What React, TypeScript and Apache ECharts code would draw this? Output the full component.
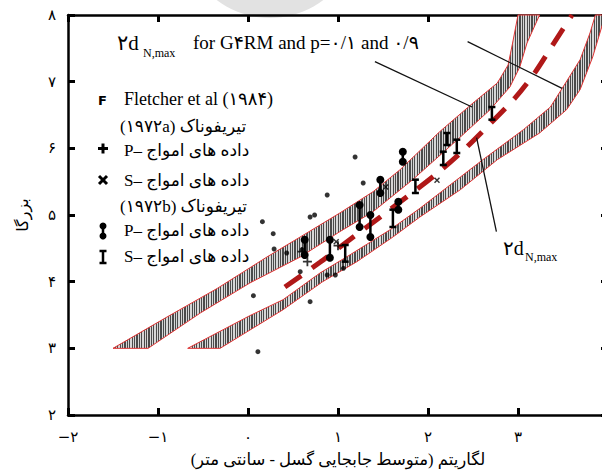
import React, { useEffect, useRef } from "react";
import * as echarts from "echarts";

// ---------- data ----------
const xTickLabels = ["−۲", "−۱", "۰", "۱", "۲", "۳", "۴"]; // -2 .. 4
const yTickLabels = ["۲", "۳", "۴", "۵", "۶", "۷", "۸"]; // 2 .. 8

const xAxisTitle = "\u200Fلگاریتم (متوسط جابجایی گسل - سانتی متر)\u200F";
const yAxisTitle = "بزرگا";

const bandAUpper = [
  [-1.5, 3.0], [-0.9, 3.47], [-0.34, 3.9], [0.21, 4.37], [0.58, 4.67], [1.02, 5.03],
  [1.39, 5.35], [1.69, 5.68], [2.13, 6.25], [2.5, 6.68], [2.77, 6.98], [2.89, 7.25],
  [2.94, 7.58], [3.0, 8.0],
];
const bandALower = [
  [-1.11, 3.0], [-0.53, 3.53], [0.02, 3.98], [0.58, 4.37], [1.02, 4.75], [1.39, 5.05],
  [1.83, 5.53], [2.36, 6.17], [2.69, 6.58], [2.91, 6.92], [3.02, 7.22], [3.1, 7.58],
  [3.24, 8.0],
];
const bandBUpper = [
  [-0.67, 3.0], [0.02, 3.49], [0.39, 3.73], [0.8, 4.13], [1.13, 4.4], [1.58, 4.78],
  [1.91, 5.1], [2.36, 5.57], [2.61, 5.83], [3.06, 6.28], [3.36, 6.62], [3.5, 6.92],
  [3.69, 7.33], [3.8, 7.73], [3.86, 8.0],
];
const bandBLower = [
  [-0.31, 3.0], [0.39, 3.58], [0.83, 4.0], [1.21, 4.3], [1.61, 4.67], [1.91, 4.97],
  [2.36, 5.38], [2.77, 5.83], [3.24, 6.23], [3.54, 6.58], [3.69, 6.88], [3.83, 7.37],
  [3.97, 8.0],
];
const meanLine = [
  [0.41, 3.92], [0.8, 4.29], [1.1, 4.6], [1.47, 4.97], [2.06, 5.58], [2.36, 5.93],
  [2.61, 6.26], [2.97, 6.76], [3.19, 7.14], [3.39, 7.56], [3.6, 8.0],
];
const leaderTopA = [[1.41, 7.3], [2.49, 6.62]];
const leaderTopB = [[2.44, 7.6], [3.49, 6.9]];
const leaderMean = [[2.54, 6.16], [2.76, 4.75]];

const otherDots = [
  [0.16, 4.9], [0.28, 4.72], [0.29, 4.49], [0.43, 4.43], [0.06, 3.79], [0.11, 2.95],
  [0.69, 3.7], [1.19, 5.87], [1.28, 5.48], [0.88, 5.3], [0.69, 4.97], [0.74, 5.0],
  [0.58, 4.15], [0.88, 4.1], [0.97, 4.1], [1.06, 4.2], [0.6, 4.48],
];
// [x, yLow, yHigh]
const trifunacBP = [
  [1.72, 5.8, 5.95], [1.47, 5.33, 5.53], [1.24, 4.82, 5.15], [1.36, 4.67, 5.0],
  [0.63, 4.4, 4.63], [0.91, 4.36, 4.63], [1.67, 5.08, 5.2],
];
const trifunacBS = [
  [1.61, 4.82, 5.08], [1.86, 5.33, 5.53], [2.21, 6.05, 6.23], [2.17, 5.75, 5.95],
  [1.08, 4.3, 4.55], [2.71, 6.43, 6.62], [2.32, 5.93, 6.13],
];
const trifunacAP = [[0.6, 4.45], [1.0, 4.54], [0.66, 4.3]];
const trifunacAS = [[1.53, 5.42], [2.1, 5.52], [0.98, 4.6]];

// ---------- styles ----------
const SERIF = "'Liberation Serif', 'DejaVu Serif', 'DejaVu Sans', serif";
const FA = "'DejaVu Sans', 'Noto Sans', sans-serif";

function stripeFill() {
  const W = 620;
  const period = 2.4;
  const n = Math.ceil(W / period);
  const stops: any[] = [];
  for (let i = 0; i < n; i++) {
    const a = i / n, b = (i + 0.5) / n, c = (i + 1) / n;
    stops.push({ offset: a, color: "#4a4a4a" }, { offset: b, color: "#4a4a4a" });
    stops.push({ offset: b, color: "#d6d6d6" }, { offset: c, color: "#d6d6d6" });
  }
  return new echarts.graphic.LinearGradient(0, 0, W, 0, stops, true);
}

function bandSeries(upper: number[][], lower: number[][]) {
  const fill = stripeFill();
  return {
    type: "custom",
    data: [upper[0]],
    z: 2,
    silent: true,
    renderItem: (_p: any, api: any) => {
      const pts = [...upper, ...lower.slice().reverse()].map((p) => api.coord(p));
      return {
        type: "polygon",
        shape: { points: pts },
        style: { fill, stroke: "#e03434", lineWidth: 1 },
      };
    },
  };
}

function leader(data: number[][]) {
  return {
    type: "line",
    data,
    symbol: "none",
    z: 4,
    lineStyle: { color: "#111", width: 1.3 },
  };
}

const plusPath = "path://M4,0H6V4H10V6H6V10H4V6H0V4H4Z";

export default function App() {
  const ref = useRef<HTMLDivElement>(null);
  useEffect(() => {
    const chart = echarts.init(ref.current!, undefined, { renderer: "svg", width: 602, height: 472 });
    const axisCommon = {
      type: "value",
      splitLine: { show: false },
      axisLine: { show: true, onZero: false, lineStyle: { color: "#000", width: 2.5 } },
      axisTick: { show: true, inside: true, length: 7, lineStyle: { color: "#000", width: 3 } },
    };
    const legendText = (x: number, y: number, text: string, size = 17) => ({
      type: "text",
      x,
      y,
      style: { text, font: `${size}px ${SERIF}`, fill: "#000", verticalAlign: "middle", align: "left" },
      z: 10,
    });
    const option: any = {
      animation: false,
      backgroundColor: "#fff",
      grid: { left: 68, top: 15, width: 540, height: 400, outerBoundsMode: "none", containLabel: false },
      xAxis: [
        {
          ...axisCommon,
          min: -2, max: 4, interval: 1, position: "bottom",
          axisLabel: {
            formatter: (v: number) => xTickLabels[Math.round(v + 2)],
            fontFamily: FA, fontSize: 15, color: "#000", margin: 14,
          },
          name: xAxisTitle,
          nameLocation: "middle",
          nameGap: 36,
          nameTextStyle: { fontFamily: SERIF, fontSize: 16.5, color: "#000" },
        },
        { ...axisCommon, min: -2, max: 4, interval: 1, position: "top", axisLabel: { show: false } },
      ],
      yAxis: [
        {
          ...axisCommon,
          min: 2, max: 8, interval: 1, position: "left",
          axisLabel: {
            formatter: (v: number) => yTickLabels[Math.round(v - 2)],
            fontFamily: FA, fontSize: 15, color: "#000", margin: 12,
          },
          name: yAxisTitle,
          nameLocation: "middle",
          nameGap: 38,
          nameRotate: 90,
          nameTextStyle: { fontFamily: SERIF, fontSize: 16, color: "#000" },
        },
        { ...axisCommon, min: 2, max: 8, interval: 1, position: "right", axisLabel: { show: false } },
      ],
      series: [
        bandSeries(bandAUpper, bandALower),
        bandSeries(bandBUpper, bandBLower),
        {
          type: "line",
          data: meanLine,
          symbol: "none",
          smooth: 0.3,
          z: 3,
          lineStyle: { color: "#b01818", width: 5, type: [20, 13] },
        },
        leader(leaderTopA),
        leader(leaderTopB),
        leader(leaderMean),
        {
          type: "scatter",
          data: otherDots,
          symbol: "circle",
          symbolSize: 5,
          z: 5,
          itemStyle: { color: "#000" },
        },
        {
          type: "scatter",
          data: trifunacAP,
          symbol: plusPath,
          symbolSize: 9,
          z: 5,
          itemStyle: { color: "#000" },
        },
        {
          type: "scatter",
          data: trifunacAS,
          symbol: plusPath,
          symbolRotate: 45,
          symbolSize: 7,
          z: 5,
          itemStyle: { color: "#000" },
        },
        {
          type: "custom",
          data: trifunacBP,
          encode: { x: 0, y: [1, 2] },
          z: 5,
          renderItem: (_p: any, api: any) => {
            const a = api.coord([api.value(0), api.value(1)]);
            const b = api.coord([api.value(0), api.value(2)]);
            return {
              type: "group",
              children: [
                { type: "line", shape: { x1: a[0], y1: a[1], x2: b[0], y2: b[1] }, style: { stroke: "#000", lineWidth: 2.5 } },
                { type: "circle", shape: { cx: a[0], cy: a[1], r: 4 }, style: { fill: "#000" } },
                { type: "circle", shape: { cx: b[0], cy: b[1], r: 4 }, style: { fill: "#000" } },
              ],
            };
          },
        },
        {
          type: "custom",
          data: trifunacBS,
          encode: { x: 0, y: [1, 2] },
          z: 5,
          renderItem: (_p: any, api: any) => {
            const a = api.coord([api.value(0), api.value(1)]);
            const b = api.coord([api.value(0), api.value(2)]);
            const s = { stroke: "#000", lineWidth: 2.5 };
            return {
              type: "group",
              children: [
                { type: "line", shape: { x1: a[0], y1: a[1], x2: b[0], y2: b[1] }, style: s },
                { type: "line", shape: { x1: a[0] - 3.5, y1: a[1], x2: a[0] + 3.5, y2: a[1] }, style: s },
                { type: "line", shape: { x1: b[0] - 3.5, y1: b[1], x2: b[0] + 3.5, y2: b[1] }, style: s },
              ],
            };
          },
        },
      ],
      graphic: [
        { type: "circle", shape: { cx: 270, cy: -70, r: 88 }, style: { fill: "#e2e2e2" }, z: 0 },
        { type: "text", x: 117, y: 43, style: { text: "۲d", font: `21px ${SERIF}`, fill: "#000", verticalAlign: "middle" }, z: 10 },
        { type: "text", x: 143, y: 53, style: { text: "N,max", font: `12px ${SERIF}`, fill: "#000", verticalAlign: "middle" }, z: 10 },
        { type: "text", x: 193, y: 42, style: { text: "for G۴RM and p=۰/۱ and ۰/۹", font: `19px ${SERIF}`, fill: "#000", verticalAlign: "middle" }, z: 10 },
        { type: "text", x: 503, y: 248, style: { text: "۲d", font: `20px ${SERIF}`, fill: "#000", verticalAlign: "middle" }, z: 10 },
        { type: "text", x: 525, y: 257, style: { text: "N,max", font: `12px ${SERIF}`, fill: "#000", verticalAlign: "middle" }, z: 10 },
        { type: "text", x: 98, y: 100, style: { text: "F", font: `bold 13px ${FA}`, fill: "#000", verticalAlign: "middle" }, z: 10 },
        legendText(124, 99, "Fletcher et al (۱۹۸۴)", 18),
        legendText(120, 126, "(۱۹۷۲a) تیریفوناک", 17),
        { type: "rect", shape: { x: 98, y: 147, width: 10, height: 3 }, style: { fill: "#000" }, z: 10 },
        { type: "rect", shape: { x: 101.5, y: 143.5, width: 3, height: 10 }, style: { fill: "#000" }, z: 10 },
        legendText(124, 150, "P– داده های امواج", 17),
        { type: "line", shape: { x1: 99, y1: 176, x2: 107, y2: 184 }, style: { stroke: "#000", lineWidth: 3 }, z: 10 },
        { type: "line", shape: { x1: 107, y1: 176, x2: 99, y2: 184 }, style: { stroke: "#000", lineWidth: 3 }, z: 10 },
        legendText(124, 180, "S– داده های امواج", 17),
        legendText(120, 206, "(۱۹۷۲b) تیریفوناک", 17),
        { type: "line", shape: { x1: 103, y1: 226, x2: 103, y2: 236 }, style: { stroke: "#000", lineWidth: 2.5 }, z: 10 },
        { type: "circle", shape: { cx: 103, cy: 226, r: 3.5 }, style: { fill: "#000" }, z: 10 },
        { type: "circle", shape: { cx: 103, cy: 236, r: 3.5 }, style: { fill: "#000" }, z: 10 },
        legendText(124, 230, "P– داده های امواج", 17),
        { type: "line", shape: { x1: 103, y1: 251, x2: 103, y2: 263 }, style: { stroke: "#000", lineWidth: 2.5 }, z: 10 },
        { type: "line", shape: { x1: 99.5, y1: 251, x2: 106.5, y2: 251 }, style: { stroke: "#000", lineWidth: 2.5 }, z: 10 },
        { type: "line", shape: { x1: 99.5, y1: 263, x2: 106.5, y2: 263 }, style: { stroke: "#000", lineWidth: 2.5 }, z: 10 },
        legendText(124, 256, "S– داده های امواج", 17),
      ],
    };
    chart.setOption(option);
    return () => chart.dispose();
  }, []);
  return (
    <div
      ref={ref}
      style={{ position: "absolute", left: 0, top: 0, width: 602, height: 472, background: "#fff" }}
    />
  );
}
